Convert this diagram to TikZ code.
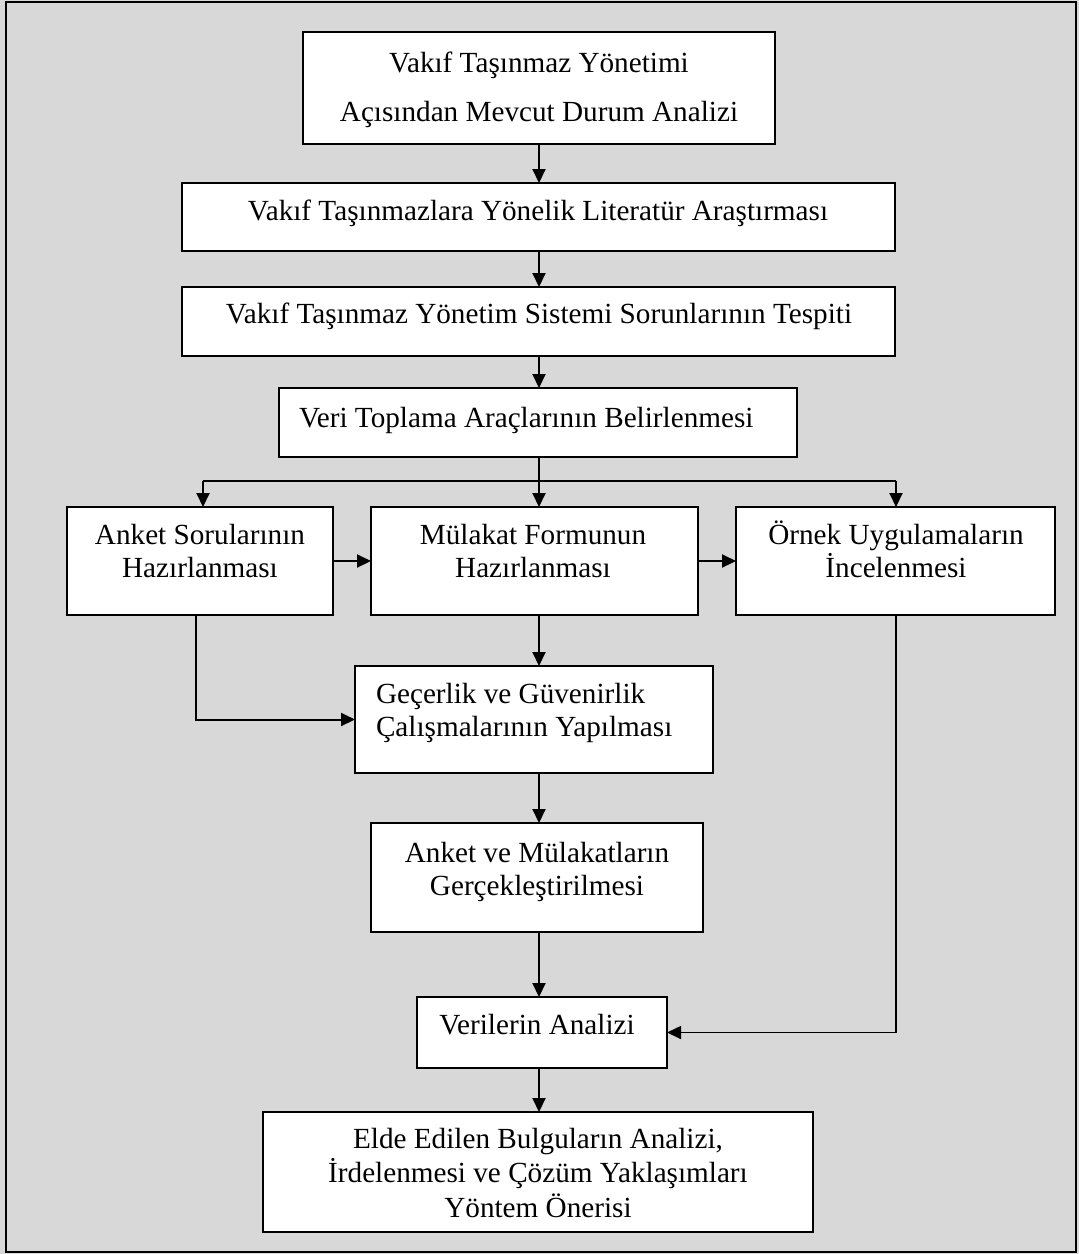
\documentclass[tikz,border=0pt]{standalone}
\usepackage{fontspec}
\setmainfont{Liberation Serif}
\usetikzlibrary{arrows.meta}

% centred / left-aligned stacks of lines; the reference point is the first baseline
\newcommand\clines[2][33.5bp]{\vtop{\lineskiplimit=-1000bp\baselineskip=#1\halign{\hfil##\hfil\cr#2\crcr}}}
\newcommand\llines[2][33.5bp]{\vtop{\lineskiplimit=-1000bp\baselineskip=#1\halign{##\hfil\cr#2\crcr}}}

\definecolor{panel}{HTML}{D8D8D8}

\tikzset{
  box/.style={draw=black, line width=2bp, fill=white, rectangle, inner sep=0pt, outer sep=0pt, anchor=north west},
  lbl/.style={inner sep=0pt, outer sep=0pt, font=\fontsize{29.2bp}{33.5bp}\selectfont},
  ln/.style={line width=2bp},
  arr/.style={line width=2bp, -{Triangle[length=14bp,width=13bp]}},
}

\begin{document}
\begin{tikzpicture}[x=1bp, y=-1bp]
  \useasboundingbox (0,0) rectangle (1079,1254);
  \fill[panel] (0,0) rectangle (1079,1254);
  \draw[line width=2.5bp] (6,2) rectangle (1076,1252);

  % boxes
  \node[box, minimum width=472bp, minimum height=112bp] (b1)  at (303,32)   {};
  \node[box, minimum width=713bp, minimum height=68bp]  (b2)  at (182,183)  {};
  \node[box, minimum width=713bp, minimum height=69bp]  (b3)  at (182,287)  {};
  \node[box, minimum width=518bp, minimum height=69bp]  (b4)  at (279,388)  {};
  \node[box, minimum width=266bp, minimum height=108bp] (b5)  at (67,507)   {};
  \node[box, minimum width=327bp, minimum height=108bp] (b6)  at (371,507)  {};
  \node[box, minimum width=319bp, minimum height=108bp] (b7)  at (736,507)  {};
  \node[box, minimum width=358bp, minimum height=107bp] (b8)  at (355,666)  {};
  \node[box, minimum width=332bp, minimum height=109bp] (b9)  at (371,823)  {};
  \node[box, minimum width=250bp, minimum height=71bp]  (b10) at (417,997)  {};
  \node[box, minimum width=550bp, minimum height=120bp] (b11) at (263,1112) {};

  % texts
  \node[lbl, anchor=base] (t1) at (539,72)
    {\clines[49bp]{Vakıf Taşınmaz Yönetimi\cr Açısından Mevcut Durum Analizi}};
  \node[lbl, anchor=base] (t2) at (538,220) {Vakıf Taşınmazlara Yönelik Literatür Araştırması};
  \node[lbl, anchor=base] (t3) at (539,323) {Vakıf Taşınmaz Yönetim Sistemi Sorunlarının Tespiti};
  \node[lbl, anchor=base west] (t4) at (299,427) {Veri Toplama Araçlarının Belirlenmesi};
  \node[lbl, anchor=base] (t5) at (200,544) {\clines{Anket Sorularının\cr Hazırlanması}};
  \node[lbl, anchor=base] (t6) at (533,544) {\clines{Mülakat Formunun\cr Hazırlanması}};
  \node[lbl, anchor=base] (t7) at (896,544) {\clines{Örnek Uygulamaların\cr İncelenmesi}};
  \node[lbl, anchor=base west] (t8) at (376,703) {\llines{Geçerlik ve Güvenirlik\cr Çalışmalarının Yapılması}};
  \node[lbl, anchor=base] (t9) at (537,862) {\clines{Anket ve Mülakatların\cr Gerçekleştirilmesi}};
  \node[lbl, anchor=base] (t10) at (537,1034) {Verilerin Analizi};
  \node[lbl, anchor=base] (t11) at (538,1148)
    {\clines[34.5bp]{Elde Edilen Bulguların Analizi,\cr İrdelenmesi ve Çözüm Yaklaşımları\cr Yöntem Önerisi}};

  % connector guide points
  \coordinate (axis) at (539,0);
  \coordinate (sL) at (203,481);
  \coordinate (sM) at (539,481);
  \coordinate (sR) at (896,481);

  % main column
  \draw[arr] (b1.south -| axis) -- (b2.north -| axis);
  \draw[arr] (b2.south -| axis) -- (b3.north -| axis);
  \draw[arr] (b3.south -| axis) -- (b4.north -| axis);

  % branching into three
  \draw[ln] (b4.south -| axis) -- (sM);
  \draw[ln] (sL) -- (sR);
  \draw[arr] (sL) -- (sL |- b5.north);
  \draw[arr] (sM) -- (sM |- b6.north);
  \draw[arr] (sR) -- (sR |- b7.north);

  % side links
  \draw[arr] (b5.east) -- (b6.west);
  \draw[arr] (b6.east) -- (b7.west);
  \draw[arr] ([xshift=-4bp]b5.south) |- (b8.west);
  \draw[arr] (b6.south -| axis) -- (b8.north -| axis);
  \draw[arr] (b8.south -| axis) -- (b9.north -| axis);
  \draw[arr] (b9.south -| axis) -- (b10.north -| axis);
  \draw[arr, line width=1.7bp] (b7.south -| sR) |- (b10.east);
  \draw[arr] (b10.south -| axis) -- (b11.north -| axis);
\end{tikzpicture}
\end{document}
